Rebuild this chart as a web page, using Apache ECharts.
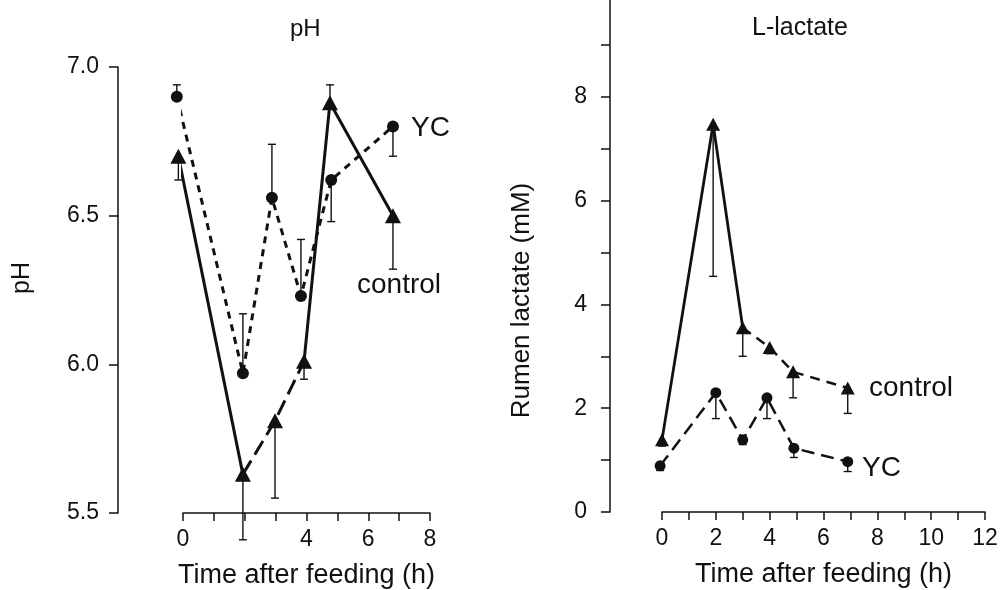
<!DOCTYPE html>
<html lang="en">
<head>
<meta charset="UTF-8"/>
<title>pH and L-lactate</title>
<script src="https://cdn.jsdelivr.net/npm/echarts@6/dist/echarts.min.js"></script>
<style>
    html, body { margin: 0; padding: 0; background: #fff; }
    #main { width: 1000px; height: 590px; }
</style>
</head>
<body>
<div id="main"></div>
<script>
// pH panel (time in h, err = end of the error bar)
var phYcTime   = [-0.2, 1.94, 2.88, 3.82, 4.8, 6.8];
var phYc       = [6.90, 5.97, 6.56, 6.23, 6.62, 6.80];
var phYcErr    = [6.94, 6.17, 6.74, 6.42, 6.48, 6.70];
var phCtrlTime = [-0.15, 1.94, 2.98, 3.92, 4.76, 6.8];
var phCtrl     = [6.70, 5.63, 5.81, 6.01, 6.88, 6.50];
var phCtrlErr  = [6.62, 5.41, 5.55, 5.95, 6.94, 6.32];
var phXLabels  = [0, 4, 6, 8];

// L-lactate panel (mM)
var lacYcTime   = [-0.07, 2.0, 3.0, 3.9, 4.9, 6.9];
var lacYc       = [0.89, 2.30, 1.39, 2.20, 1.23, 0.97];
var lacYcErr    = [0.80, 1.80, 1.30, 1.80, 1.05, 0.78];
var lacCtrlTime = [0.0, 1.9, 3.0, 4.0, 4.87, 6.9];
var lacCtrl     = [1.39, 7.47, 3.55, 3.17, 2.70, 2.39];
var lacCtrlErr  = [1.27, 4.54, 3.00, 3.05, 2.20, 1.90];
var lacXLabels  = [0, 2, 4, 6, 8, 10, 12];
var lacYLabels  = [0, 2, 4, 6, 8];

var ink = '#111';
var font = 'Liberation Sans, Arial, sans-serif';

// points from index a to b (inclusive)
function pts(t, v, a, b) {
    var out = [];
    for (var i = a; i <= b; i++) out.push([t[i], v[i]]);
    return out;
}
function errPts(t, v, e) {
    return t.map(function (x, i) { return [x, v[i], e[i]]; });
}

function lineSeries(idx, data, width, dash) {
    return {
        type: 'line', xAxisIndex: idx, yAxisIndex: idx, data: data,
        symbol: 'none', clip: false, silent: true, z: 2,
        lineStyle: { color: ink, width: width, type: dash || 'solid' }
    };
}
function markSeries(idx, data, symbol, size) {
    return {
        type: 'scatter', xAxisIndex: idx, yAxisIndex: idx, data: data,
        symbol: symbol, symbolSize: size, clip: false, silent: true, z: 4,
        itemStyle: { color: ink, opacity: 1 }
    };
}
function errSeries(idx, data) {
    return {
        type: 'custom', xAxisIndex: idx, yAxisIndex: idx, data: data,
        clip: false, silent: true, z: 3,
        renderItem: function (params, api) {
            var p0 = api.coord([api.value(0), api.value(1)]);
            var p1 = api.coord([api.value(0), api.value(2)]);
            var st = { stroke: ink, lineWidth: 1.4 };
            return {
                type: 'group',
                children: [
                    { type: 'line', shape: { x1: p0[0], y1: p0[1], x2: p1[0], y2: p1[1] }, style: st },
                    { type: 'line', shape: { x1: p1[0] - 4, y1: p1[1], x2: p1[0] + 4, y2: p1[1] }, style: st }
                ]
            };
        }
    };
}

function axisBase() {
    return {
        type: 'value',
        axisLine: { show: true, onZero: false, lineStyle: { color: ink, width: 1.5 } },
        axisTick: { show: true, length: 8, lineStyle: { color: ink, width: 1.5 } },
        splitLine: { show: false },
        nameLocation: 'middle',
        nameMoveOverlap: false,
        nameTextStyle: { color: ink, fontSize: 27, fontFamily: font }
    };
}

var myChart = echarts.init(document.getElementById('main'));

var xPh = axisBase();
Object.assign(xPh, {
    gridIndex: 0, min: 0, max: 8, interval: 1,
    name: 'Time after feeding (h)', nameGap: 49,
    axisLabel: {
        color: ink, fontSize: 23, fontFamily: font, margin: 15,
        formatter: function (v) { return phXLabels.indexOf(v) >= 0 ? String(v) : ''; }
    }
});
var yPh = axisBase();
Object.assign(yPh, {
    gridIndex: 0, min: 5.5, max: 7.0, interval: 0.5, offset: 65,
    name: 'pH', nameGap: 83,
    axisTick: { show: true, length: 9, lineStyle: { color: ink, width: 1.5 } },
    axisLabel: {
        color: ink, fontSize: 23, fontFamily: font, margin: 19,
        formatter: function (v) { return v.toFixed(1); }
    }
});
yPh.nameTextStyle = { color: ink, fontSize: 25, fontFamily: font, padding: [0, 0, 0, 24] };

var xLac = axisBase();
Object.assign(xLac, {
    gridIndex: 1, min: 0, max: 12, interval: 1,
    name: 'Time after feeding (h)', nameGap: 49,
    axisLabel: {
        color: ink, fontSize: 23, fontFamily: font, margin: 15,
        formatter: function (v) { return lacXLabels.indexOf(v) >= 0 ? String(v) : ''; }
    }
});
var yLac = axisBase();
Object.assign(yLac, {
    gridIndex: 1, min: 0, max: 10, interval: 1, offset: 52,
    name: 'Rumen lactate (mM)', nameGap: 75,
    axisTick: { show: true, length: 9, lineStyle: { color: ink, width: 1.5 } },
    axisLabel: {
        color: ink, fontSize: 23, fontFamily: font, margin: 23,
        formatter: function (v) { return lacYLabels.indexOf(v) >= 0 ? String(v) : ''; }
    }
});
yLac.nameTextStyle = { color: ink, fontSize: 26, fontFamily: font, padding: [0, 96, 0, 0] };

var option = {
    backgroundColor: '#fff',
    animation: false,
    title: [
        { text: 'pH', left: 285, top: 12, textStyle: { color: ink, fontSize: 24, fontWeight: 'normal', fontFamily: font } },
        { text: 'L-lactate', left: 747, top: 11, textStyle: { color: ink, fontSize: 25, fontWeight: 'normal', fontFamily: font } }
    ],
    grid: [
        { left: 183, top: 67, width: 247, height: 446, outerBoundsMode: 'none', containLabel: false },
        { left: 662, top: -7, width: 323, height: 519, outerBoundsMode: 'none', containLabel: false }
    ],
    xAxis: [xPh, xLac],
    yAxis: [yPh, yLac],
    graphic: [
        { type: 'text', x: 411, y: 128, style: { text: 'YC', fill: ink, fontSize: 28, fontFamily: font, verticalAlign: 'middle' } },
        { type: 'text', x: 357, y: 285, style: { text: 'control', fill: ink, fontSize: 28, fontFamily: font, verticalAlign: 'middle' } },
        { type: 'text', x: 869, y: 388, style: { text: 'control', fill: ink, fontSize: 28, fontFamily: font, verticalAlign: 'middle' } },
        { type: 'text', x: 862, y: 468, style: { text: 'YC', fill: ink, fontSize: 28, fontFamily: font, verticalAlign: 'middle' } }
    ],
    series: [
        // pH
        lineSeries(0, pts(phYcTime, phYc, 0, 5), 3, [7, 6]),
        lineSeries(0, pts(phCtrlTime, phCtrl, 0, 1), 3),
        lineSeries(0, pts(phCtrlTime, phCtrl, 1, 3), 3, [16, 7]),
        lineSeries(0, pts(phCtrlTime, phCtrl, 3, 5), 3),
        errSeries(0, errPts(phYcTime, phYc, phYcErr)),
        errSeries(0, errPts(phCtrlTime, phCtrl, phCtrlErr)),
        markSeries(0, pts(phYcTime, phYc, 0, 5), 'circle', 12),
        markSeries(0, pts(phCtrlTime, phCtrl, 0, 5), 'triangle', [16, 15]),
        // L-lactate
        lineSeries(1, pts(lacCtrlTime, lacCtrl, 0, 2), 2.8),
        lineSeries(1, pts(lacCtrlTime, lacCtrl, 2, 5), 2.5, [10, 7]),
        lineSeries(1, pts(lacYcTime, lacYc, 0, 5), 2.5, [13, 7]),
        errSeries(1, errPts(lacYcTime, lacYc, lacYcErr)),
        errSeries(1, errPts(lacCtrlTime, lacCtrl, lacCtrlErr)),
        markSeries(1, pts(lacYcTime, lacYc, 0, 5), 'circle', 11),
        markSeries(1, pts(lacCtrlTime, lacCtrl, 0, 5), 'triangle', [14, 13])
    ]
};

myChart.setOption(option);
</script>
</body>
</html>
